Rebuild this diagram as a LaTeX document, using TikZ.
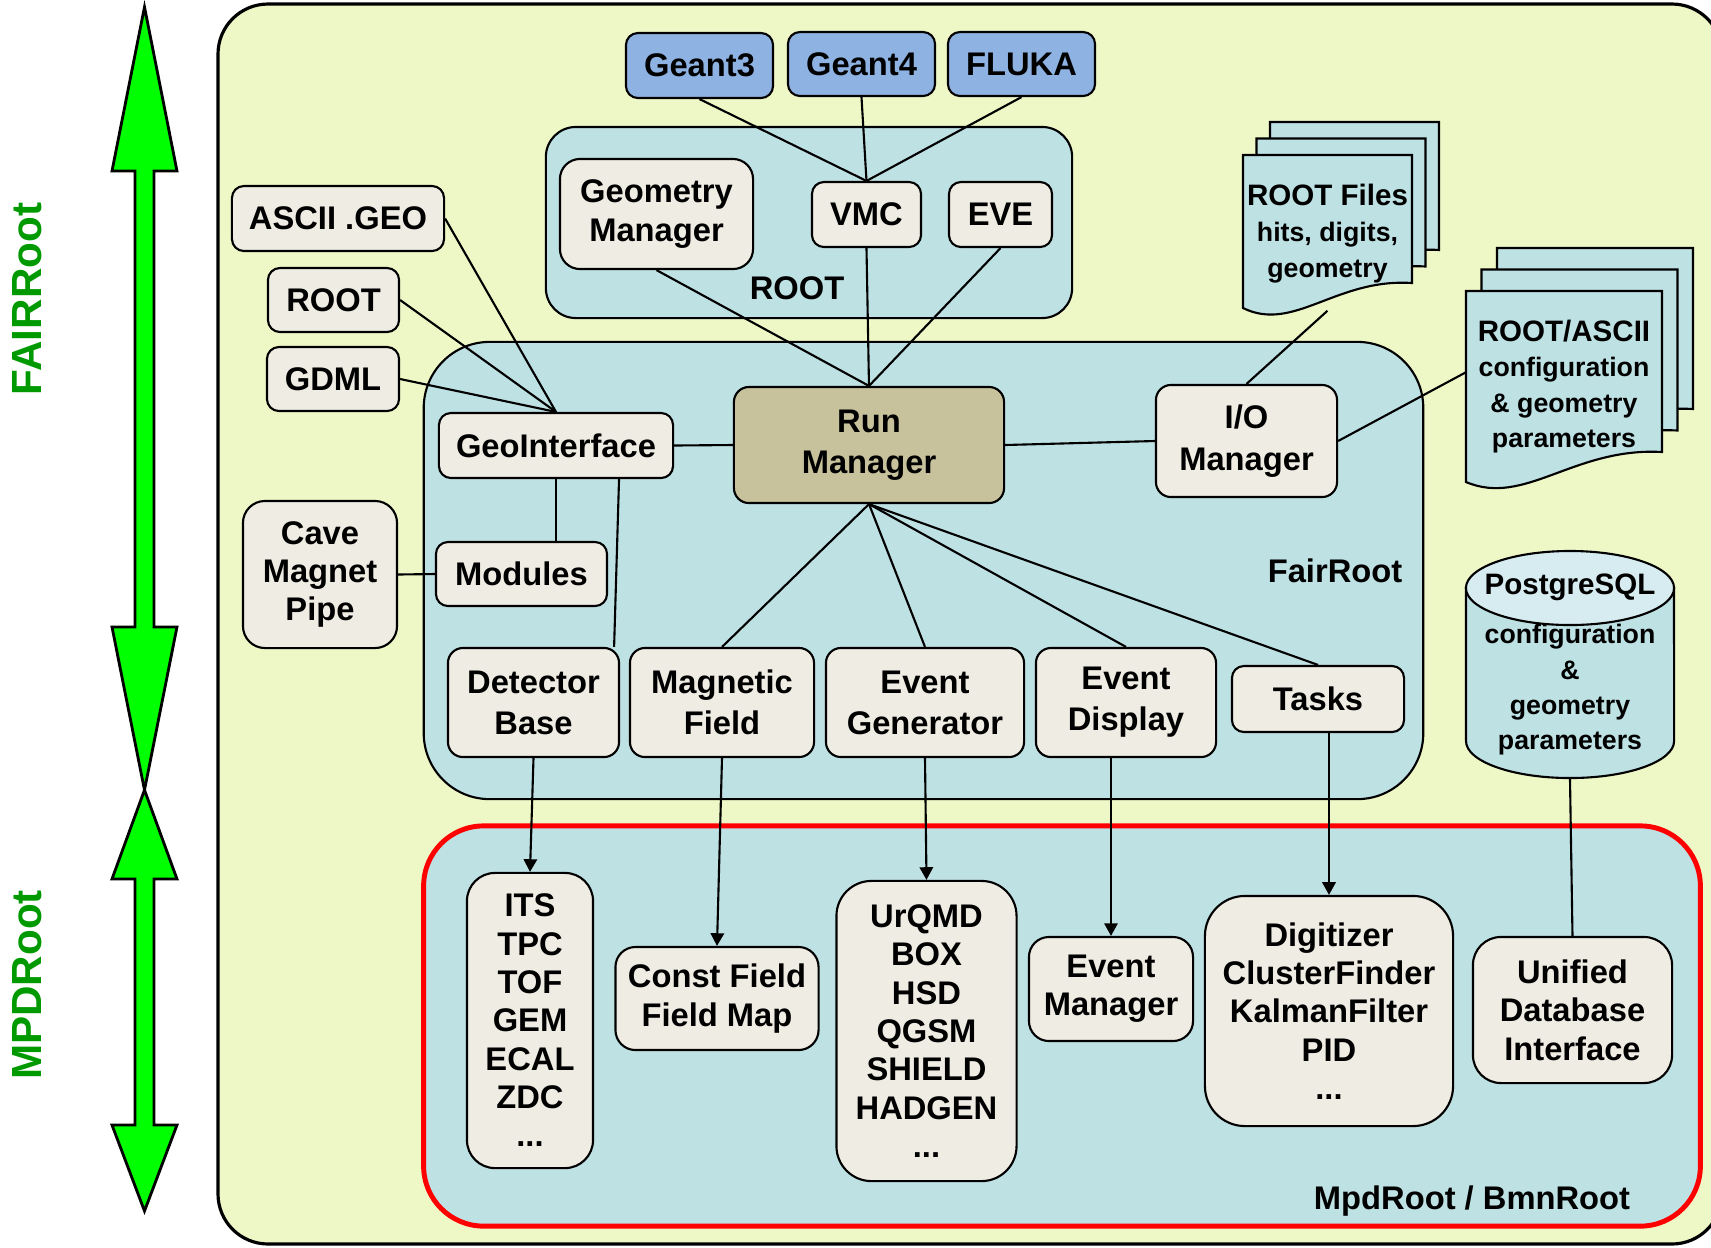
\documentclass[tikz,border=0pt]{standalone}
\usepackage{fontspec}
\setmainfont{Liberation Sans}
\usepackage{tikz}
\usetikzlibrary{arrows.meta}
\usepackage{xcolor}

\definecolor{outerbg}{RGB}{238,247,198}
\definecolor{groupbg}{RGB}{190,225,228}
\definecolor{boxbg}{RGB}{238,236,227}
\definecolor{runbg}{RGB}{199,194,155}
\definecolor{simbg}{RGB}{142,179,226}
\definecolor{cylcap}{RGB}{214,236,240}
\definecolor{arrgreen}{RGB}{0,255,0}
\definecolor{txtgreen}{RGB}{0,153,0}

% one sheet of a document stack: x, y, width, right height, left height
\newcommand{\docpage}[5]{%
  \filldraw[docsheet] ({#1},{#2}) -- ({#1+#3},{#2}) -- ({#1+#3},{#2+#4})
    .. controls ({#1+0.55*#3},{#2+#4-5}) and ({#1+0.3*#3},{#2+#5+25}) .. ({#1},{#2+#5}) -- cycle;}

\begin{document}
\begin{tikzpicture}[x=0.01cm,y=-0.01cm]
  \tikzset{txt/.style = {font=\fontsize{9.3}{10.9}\selectfont\bfseries, align=center, inner sep=1pt, text=black}}
  \tikzset{box/.style = {txt, draw, fill=boxbg, line width=0.6pt, rounded corners=0.12cm}}
  \tikzset{simbox/.style = {box, fill=simbg}}
  \tikzset{runbox/.style = {box, fill=runbg, rounded corners=0.15cm}}
  \tikzset{grp/.style = {draw, fill=groupbg, line width=0.6pt}}
  \tikzset{doctext/.style = {txt, font=\fontsize{7.6}{10.2}\selectfont\bfseries}}
  \tikzset{docsheet/.style = {fill=groupbg, draw, line width=0.6pt}}
  \tikzset{sidelabel/.style = {font=\fontsize{12}{14}\selectfont\bfseries, text=txtgreen, rotate=90, inner sep=0pt}}
  \tikzset{link/.style = {draw, line width=0.6pt}}
  \tikzset{%
  downtip/.tip={Triangle[length=3.6pt,width=3.8pt]},
  }
  \tikzset{flowlink/.style = {link, -downtip}}

  \useasboundingbox (0,0) rectangle (1711,1247);

  % background frame
  \filldraw[fill=outerbg, line width=0.9pt, rounded corners=0.5cm] (218,4) rectangle (1722,1244);

  % green double arrows
  \foreach \top/\tb/\bb/\bot in {7/171/627/790, 790/879/1125/1211}
  \filldraw[fill=arrgreen, line width=0.8pt] (144.5,\top) -- (177,\tb) -- (154,\tb) -- (154,\bb) -- (177,\bb)
    -- (144.5,\bot) -- (112,\bb) -- (135,\bb) -- (135,\tb) -- (112,\tb) -- cycle;
  \node[sidelabel] (fairlbl) at (27,299) {FAIRRoot};
  \node[sidelabel] (mpdlbl) at (27,985) {MPDRoot};

  % groups
  \node[grp, minimum width=5.26cm, minimum height=1.91cm, rounded corners=0.3cm] (rootgrp) at (809,222.5) {};
  \node[grp, minimum width=9.99cm, minimum height=4.57cm, rounded corners=0.66cm] (fairgrp) at (923.5,570.5) {};
  \node[grp, draw=red, line width=1.4pt, minimum width=12.76cm, minimum height=4.0cm, rounded corners=0.6cm] (mpdgrp) at (1062,1026) {};
  \node[txt] (rootlbl) at (797,288) {ROOT};
  \node[txt] (fairrootlbl) at (1335,571) {FairRoot};
  \node[txt] (mpdrootlbl) at (1472,1201) {MpdRoot / BmnRoot};

  % document stacks
  \foreach \k in {2,1,0}
  \docpage{1243+13.5*\k}{155-16.5*\k}{169}{128}{153};
  \foreach \k in {2,1,0}
  \docpage{1466+15.5*\k}{291-21.5*\k}{196}{161}{191};
  \node[doctext, minimum width=1.69cm, minimum height=1.53cm] (rootfiles) at (1327.5,233.5)
    {{\fontsize{8.4}{10.4}\selectfont ROOT Files}\\hits, digits,\\geometry};
  \node[doctext, minimum width=1.96cm, minimum height=1.91cm, font=\fontsize{7.6}{10}\selectfont\bfseries] (asciidoc) at (1564,386.5)
    {{\fontsize{8.4}{10}\selectfont ROOT/ASCII}\\configuration\\\& geometry\\parameters};

  % database cylinder
  \filldraw[fill=groupbg, line width=0.6pt] (1466,588) -- (1466,741)
    arc[start angle=180, end angle=360, x radius=1.04cm, y radius=0.37cm] -- (1674,588) -- cycle;
  \filldraw[fill=cylcap, line width=0.6pt] (1570,588) ellipse[x radius=1.04cm, y radius=0.37cm];
  \node[doctext, minimum width=2.08cm, minimum height=2.27cm, font=\fontsize{7.6}{10}\selectfont\bfseries] (pgsql) at (1570,664.5)
    {{\fontsize{8.4}{10}\selectfont PostgreSQL}\\[4pt]configuration\\\&\\geometry\\parameters};

  % transport codes
  \node[simbox, minimum width=1.47cm, minimum height=0.65cm] (geant3) at (699.5,65.5) {Geant3};
  \node[simbox, minimum width=1.47cm, minimum height=0.64cm] (geant4) at (861.5,64) {Geant4};
  \node[simbox, minimum width=1.47cm, minimum height=0.64cm] (fluka) at (1021.5,64) {FLUKA};

  % ROOT
  \node[box, minimum width=1.93cm, minimum height=1.10cm, rounded corners=0.2cm] (geomgr) at (656.5,214) {Geometry\\Manager};
  \node[box, minimum width=1.09cm, minimum height=0.65cm] (vmc) at (866.5,214.5) {VMC};
  \node[box, minimum width=1.03cm, minimum height=0.65cm] (eve) at (1000.5,214.5) {EVE};

  % geometry inputs
  \node[box, minimum width=2.12cm, minimum height=0.65cm] (asciigeo) at (338,218.5) {ASCII .GEO};
  \node[box, minimum width=1.31cm, minimum height=0.64cm] (rootin) at (333.5,300) {ROOT};
  \node[box, minimum width=1.32cm, minimum height=0.64cm] (gdml) at (333,379) {GDML};
  \node[box, minimum width=1.54cm, minimum height=1.47cm, rounded corners=0.22cm] (cave) at (320,574.5) {Cave\\Magnet\\Pipe};

  % FairRoot
  \node[box, minimum width=2.34cm, minimum height=0.65cm] (geoint) at (556,445.5) {GeoInterface};
  \node[runbox, minimum width=2.70cm, minimum height=1.16cm, font=\fontsize{9.3}{11.8}\selectfont\bfseries] (runmgr) at (869,445) {Run\\Manager};
  \node[box, minimum width=1.81cm, minimum height=1.12cm, rounded corners=0.15cm, font=\fontsize{9.3}{11.8}\selectfont\bfseries] (iomgr) at (1246.5,441) {I/O\\Manager};
  \node[box, minimum width=1.71cm, minimum height=0.64cm] (modules) at (521.5,574) {Modules};
  \node[box, minimum width=1.71cm, minimum height=1.09cm, rounded corners=0.15cm, font=\fontsize{9.3}{11.6}\selectfont\bfseries] (detbase) at (533.5,702.5) {Detector\\Base};
  \node[box, minimum width=1.84cm, minimum height=1.09cm, rounded corners=0.15cm, font=\fontsize{9.3}{11.6}\selectfont\bfseries] (magfield) at (722,702.5) {Magnetic\\Field};
  \node[box, minimum width=1.98cm, minimum height=1.09cm, rounded corners=0.15cm, font=\fontsize{9.3}{11.6}\selectfont\bfseries] (evgen) at (925,702.5) {Event\\Generator};
  \node[box, minimum width=1.80cm, minimum height=1.09cm, rounded corners=0.15cm, font=\fontsize{9.3}{11.6}\selectfont\bfseries] (evdisp) at (1126,702.5) {Event\\Display};
  \node[box, minimum width=1.72cm, minimum height=0.66cm] (tasks) at (1318,699) {Tasks};

  % MpdRoot / BmnRoot
  \node[box, minimum width=1.26cm, minimum height=2.95cm, rounded corners=0.28cm] (its) at (530,1020.5) {ITS\\TPC\\TOF\\GEM\\ECAL\\ZDC\\...};
  \node[box, minimum width=2.03cm, minimum height=1.03cm, rounded corners=0.2cm] (constf) at (717,998.5) {Const Field\\Field Map};
  \node[box, minimum width=1.80cm, minimum height=3.00cm, rounded corners=0.35cm] (urqmd) at (926.5,1031) {UrQMD\\BOX\\HSD\\QGSM\\SHIELD\\HADGEN\\...};
  \node[box, minimum width=1.64cm, minimum height=1.04cm, rounded corners=0.2cm] (evmgr) at (1111,989) {Event\\Manager};
  \node[box, minimum width=2.48cm, minimum height=2.30cm, rounded corners=0.4cm] (digi) at (1329,1011) {Digitizer\\ClusterFinder\\KalmanFilter\\PID\\...};
  \node[box, minimum width=1.99cm, minimum height=1.46cm, rounded corners=0.28cm] (udb) at (1572.5,1010) {Unified\\Database\\Interface};

  % connectors
  \foreach \from/\to in {geant3.south/vmc.north, geant4.south/vmc.north, fluka.south/vmc.north,
                         geomgr.south/runmgr.north, vmc.south/runmgr.north, eve.south/runmgr.north,
                         asciigeo.east/geoint.north, rootin.east/geoint.north, gdml.east/geoint.north,
                         geoint.east/runmgr.west, runmgr.east/iomgr.west, cave.east/modules.west,
                         runmgr.south/magfield.north, runmgr.south/evgen.north,
                         runmgr.south/evdisp.north, runmgr.south/tasks.north,
                         rootfiles.south/iomgr.north, iomgr.east/asciidoc.172, pgsql.south/udb.north}
  \path[link](\from) edge (\to);
  \draw[link] (geoint.south) -- (geoint.south |- modules.north);
  \draw[link] ([xshift=0.63cm]geoint.south) -- ([xshift=-0.06cm]detbase.north east);

  \foreach \from/\to in {detbase.south/its.north, magfield.south/constf.north, evgen.south/urqmd.north}
  \draw[flowlink](\from) -- (\to);
  \draw[flowlink] (evmgr.north |- evdisp.south) -- (evmgr.north);
  \draw[flowlink] (digi.north |- tasks.south) -- (digi.north);

\end{tikzpicture}
\end{document}
